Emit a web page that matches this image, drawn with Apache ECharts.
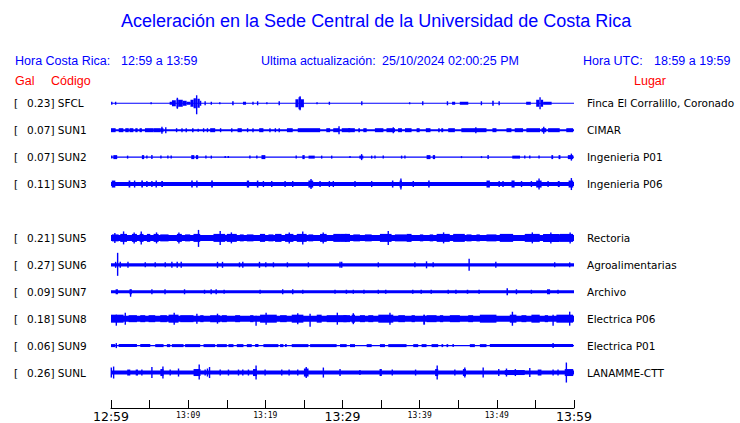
<!DOCTYPE html>
<html><head><meta charset="utf-8">
<script src="https://cdn.jsdelivr.net/npm/echarts@6/dist/echarts.min.js"></script>
<style>html,body{margin:0;padding:0;background:#fff}#c{width:740px;height:423px}</style>
</head><body><div id="c"></div>
<script>
// ---- data ----
const codes = ['SFCL','SUN1','SUN2','SUN3','','SUN5','SUN6','SUN7','SUN8','SUN9','SUNL'];
const gal = [0.23,0.07,0.07,0.11,null,0.21,0.27,0.09,0.18,0.06,0.26];
const places = ['Finca El Corralillo, Coronado','CIMAR','Ingenieria P01','Ingenieria P06','','Rectoria','Agroalimentarias','Archivo','Electrica P06','Electrica P01','LANAMME-CTT'];
const baseAmp = [0.5,1,0.6,2,0,3,1.7,1.5,3,0.7,2];
const timeLabels = ['12:59','13:09','13:19','13:29','13:39','13:49','13:59'];
const majorLabels = ['12:59','13:29','13:59'];
// events: [tStart(min), tEnd(min), up, down]
const evSFCL = [[0.1,0.1,1.5],[0.6,0.6,1.5],[5.2,5.2,1],[7.6,7.9,1.5],[7.9,8.4,3],[8.5,8.7,4.5],[8.6,8.6,5.5],[8.7,9.3,3.5],[9.3,9.8,2.5],[9.8,10.3,1.5],[10.3,10.7,3.5],[10.7,11.0,5],[11.1,11.2,8,11],[11.2,11.5,4.5],[11.5,11.7,2.5],[12.2,12.2,2],[13.0,13.0,1.5],[14.1,14.1,1],[15.7,15.9,2],[17.1,17.5,1.5],[18.4,18.4,1.5],[19.0,19.1,2],[20.2,20.2,1],[21.8,21.8,2],[23.9,24.3,4],[24.3,24.6,6],[24.5,24.5,7],[24.6,25.0,4],[26.7,26.7,1],[28.3,28.3,1.5],[32.5,32.5,2],[38.7,38.7,1],[40.4,40.4,2],[43.6,43.6,2],[44.2,44.6,1.5],[45.2,46.3,1.5],[48.0,48.0,2],[49.4,49.6,2.5],[50.3,50.3,2],[53.8,54.4,1.5],[55.1,55.5,3.5],[55.6,55.6,6],[55.7,56.0,3.5],[56.0,57.1,1.5]];
const evSUN1 = [[0,0.6,2],[1.0,1.6,2],[1.85,2.3,2],[2.4,2.9,2],[3.15,3.45,2],[3.7,4.0,2],[4.4,5.5,2],[5.5,6.4,2],[6.4,6.8,2],[6.6,6.6,3.5],[7.1,7.2,3],[8.5,8.5,2],[9.2,9.2,2],[9.75,9.75,2],[10.5,10.7,2],[11.3,11.3,1.5],[12.0,12.0,2],[12.5,12.5,2],[12.85,13.5,2],[14.2,14.2,2],[15.65,15.65,2],[16.4,16.95,2],[17.7,17.7,2],[18.4,18.4,2],[19.2,19.75,2],[20.6,20.6,2],[21.3,21.3,2],[21.8,21.8,2],[22.8,23.55,2],[24.2,27.1,2],[27.9,28.4,2],[28.8,29.6,2],[29.55,29.55,4],[29.9,31.0,2],[30.75,31.6,2],[32.05,32.26,2],[32.7,33.13,2],[34.2,35.3,2],[35.7,36.8,2],[36.58,36.58,3],[37.2,37.7,2],[38.1,38.95,2],[39.6,40.0,2],[40.8,41.4,2],[42.4,42.6,2],[42.8,43.05,2],[43.7,44.56,2],[45.4,48.66,2],[47.28,47.28,3],[49.43,49.95,2],[51.25,51.89,2],[52.32,53.4,2],[53.83,55.6,2],[55.8,56.4,2],[56.08,56.08,3.5],[56.64,58.15,2],[59.0,59.88,2]];
const evSUN2 = [[0.1,0.1,1.5],[0.3,0.8,2],[2.15,2.15,1.5],[4.0,4.3,2],[4.65,4.65,1.5],[5.3,5.3,2],[6.47,6.47,1.5],[7.37,7.37,1.5],[7.8,7.8,1.5],[10.4,10.8,2],[11.0,11.3,2],[12.3,12.3,1.5],[13.0,13.0,1.5],[14.8,14.8,1],[15.2,15.2,1],[18.0,18.0,1.5],[18.9,18.9,1.5],[19.5,20.0,2],[24.0,24.0,1.5],[24.8,25.1,2],[25.6,26.4,1.5],[27.3,27.3,1.5],[28.6,28.6,1.5],[30.97,30.97,1],[32.18,32.7,1.5],[32.48,32.48,3],[33.78,33.78,1.5],[34.21,34.21,1.5],[35.28,35.28,1.5],[37.66,37.66,1.5],[38.09,38.09,1.5],[40.9,41.4,2],[41.7,42.0,2],[45.42,45.42,1],[48.01,48.01,1],[48.87,48.87,2],[52.0,53.0,1.5],[53.62,53.62,1.5],[54.27,54.27,1.5],[55.47,55.47,1.5],[57.07,57.3,2],[58.0,58.24,2],[59.2,59.9,2],[59.66,59.66,3.5]];
const evSUN3 = [[0.1,0.56,3.5],[2.28,2.5,3.5],[3.06,3.19,3.5],[3.92,4.14,3.5],[4.65,4.65,3],[5.3,5.3,3],[5.86,6.04,3.5],[6.51,6.73,3],[10.39,10.6,3.5],[11.13,11.13,3.5],[12.98,13.2,3.5],[17.6,17.9,3.5],[18.9,19.1,3.5],[19.75,19.75,3],[20.83,20.83,3],[22.56,22.56,3],[23.55,23.55,3],[25.58,26.2,3.5],[25.92,25.92,5],[27.09,27.09,3],[28.3,28.3,3],[28.81,28.81,3],[31.62,31.62,3],[33.78,33.78,3],[36.4,36.6,3.5],[37.4,37.7,3.5],[37.57,37.57,5.5],[39.17,39.17,3],[41.1,41.3,3.5],[48.66,49.1,3.5],[50.3,50.3,3],[50.8,50.8,3],[51.9,52.3,3.5],[53.2,53.2,3],[54.48,54.48,3],[55.1,55.8,3.5],[55.47,55.47,5.5],[56.64,56.64,3],[57.9,58.15,3],[59.3,59.9,3.5],[59.66,59.66,6]];
const evSUN5 = [[0.12,0.99,3.5],[0.5,0.5,5],[1.2,2.07,4],[1.63,1.63,6.5],[2.71,3.36,4],[3.0,3.0,5.5],[3.71,4.22,4],[3.92,3.92,6.5],[4.65,5.09,4],[5.52,6.17,4],[5.9,5.9,5.5],[6.38,7.46,3.5],[8.54,9.18,4],[8.8,8.8,5.5],[9.6,10.26,3.5],[10.69,11.56,4],[11.34,11.34,8,9],[13.28,14.8,4],[14.15,14.15,7],[15.0,16.3,4],[15.6,15.6,5.5],[16.7,17.2,3.5],[17.6,18.46,3.5],[19.3,19.97,4],[20.4,21.05,3.5],[21.26,22.1,4],[22.56,23.64,4],[23.1,23.1,5.5],[24.07,25.36,4],[24.85,24.85,6.5],[25.58,26.2,3.5],[27.09,27.95,4],[27.5,27.5,5.5],[28.81,29.68,4],[29.68,30.54,4],[30.32,30.97,4],[31.4,32.26,3.5],[32.9,33.78,3.5],[34.85,36.36,4],[35.93,35.93,7],[36.79,38.3,3.5],[38.3,38.95,4],[40.03,40.46,3.5],[41.3,41.75,3.5],[42.2,43.9,4],[43.1,43.1,5.5],[44.34,45.85,4],[46.07,46.72,3.5],[47.36,47.8,3.5],[48.66,49.95,3.5],[50.38,52.11,4],[53.62,55.56,4],[54.6,54.6,5.5],[55.99,58.15,4],[57.0,57.0,5.5],[58.15,59.88,4],[59.5,59.5,5.5]];
const evSUN6 = [[0.6,0.6,3],[0.86,0.86,12,11],[1.2,1.2,3],[2.2,2.2,3],[4.44,4.44,2.5],[5.73,5.73,2.5],[7.03,7.03,2.5],[7.89,7.89,3],[8.58,8.58,3],[9.1,9.1,3],[13.8,13.8,3],[14.45,14.45,3],[16.65,16.65,2.5],[17.08,17.08,3],[19.24,19.24,3],[20.06,20.06,2.5],[21.05,21.05,2.5],[22.86,22.86,2.5],[25.58,25.58,2.5],[29.68,29.68,3],[29.9,29.9,3],[34.64,34.64,2.5],[39.38,39.38,2.5],[40.89,40.89,3.5],[41.75,41.75,2.5],[46.41,46.41,6],[49.87,49.87,3],[57.5,57.5,2.5],[59.44,59.44,2.5]];
const evSUN7 = [[0.6,0.9,2.5],[2.4,2.7,2.5],[2.54,2.54,2,5],[5.3,5.3,2.5],[7.0,7.1,2.5],[9.53,9.53,2.5],[12.12,12.12,2],[12.98,12.98,2.5],[13.63,13.63,2.5],[14.66,14.66,2],[19.32,19.32,2],[22.25,22.25,2.5],[23.55,23.55,2.5],[24.85,24.85,2],[29.03,29.03,2],[30.41,30.6,2],[31.4,31.4,2],[32.78,32.9,2],[34.64,34.64,2],[35.5,35.7,2],[39.0,39.2,2],[40.1,40.3,2],[41.4,41.6,2],[43.7,43.7,2],[44.6,44.8,2],[46.1,46.3,2],[47.6,47.8,2],[51.25,51.45,3.5],[52.54,52.54,2.5],[54.48,54.48,2],[56.5,56.9,2.5],[57.93,57.93,2]];
const evSUN8 = [[0,1.63,4],[0.69,0.69,4,7],[1.85,1.85,6],[2.28,3.36,3.5],[3.79,4.44,3.5],[4.87,5.73,3.5],[6.38,7.24,3.5],[7.46,8.75,4],[8.19,8.19,6],[8.97,10.69,3.5],[11.13,11.13,5],[11.56,11.99,3.5],[12.85,14.15,3.5],[13.8,13.8,5],[14.36,15.01,3.5],[16.09,16.73,3.5],[18.03,18.46,3.5],[18.8,18.8,3,7],[19.32,21.48,4],[20.1,20.1,6],[21.91,22.77,3.5],[23.42,24.93,4],[24.2,24.2,5.5],[25.8,25.8,5,8],[26.66,27.3,4],[27.95,29.68,3.5],[29.33,29.33,6],[29.68,30.54,3.5],[30.11,30.97,3.5],[31.19,31.62,4],[31.4,31.4,5.5],[32.26,32.91,3.5],[33.34,33.99,3.5],[34.64,36.58,4],[36.15,36.15,6],[37.23,38.09,3.5],[38.95,39.38,3.5],[40.46,40.7,4,6],[40.89,42.19,3.5],[42.62,43.05,3.5],[43.91,45.21,3.5],[46.29,46.93,3.5],[47.8,49.95,4],[51.68,52.54,4],[52.02,52.02,7],[53.19,53.83,3.5],[54.48,55.56,4],[56.21,56.64,3.5],[57.29,57.29,4,7],[57.72,59.88,4],[59.44,59.44,7]];
const evSUN9 = [[0,0.56,1.5],[0.69,0.69,2.5],[0.99,3.36,1.5],[3.79,5.09,1.5],[5.73,6.81,1.5],[7.24,7.67,1.5],[7.89,9.4,1.5],[9.6,11.56,1.5],[11.99,13.5,1.5],[13.71,15.01,1.5],[15.22,15.87,1.5],[16.3,17.16,1.5],[17.6,18.24,1.5],[18.68,19.11,1.5],[19.75,21.69,1.5],[21.91,22.34,1.5],[22.56,22.77,1.5],[23.42,25.58,1.5],[25.8,29.24,1.5],[29.68,30.54,1.5],[30.97,31.62,1.5],[33.13,33.78,1.5],[34.85,35.5,1.5],[35.93,38.3,1.5],[39.17,39.81,1.5],[40.25,40.89,1.5],[41.54,42.4,1.5],[42.83,43.05,1.5],[43.48,43.7,1.5],[44.34,44.34,1.5],[46.5,47.15,1.5],[47.8,48.66,1.5],[49.09,59.88,1.5],[57.29,57.29,2.5]];
const evSUNL = [[0.04,0.04,5],[0.34,0.34,6],[2.1,2.5,3],[3.2,3.5,3],[4.0,4.0,3],[5.3,5.3,5.5],[6.4,6.8,3.5],[6.73,6.73,6],[7.67,7.67,3],[8.75,8.75,4],[10.7,11.6,3.5],[11.43,11.43,8,7],[12.2,12.2,3],[12.5,12.5,4],[12.77,12.77,5.5],[14.15,14.15,3],[15.22,15.22,3],[16.52,16.52,3],[17.08,17.08,3],[17.81,17.81,3],[18.4,18.9,3.5],[18.8,18.8,7],[19.97,19.97,3],[22.13,22.13,3],[23.08,23.08,3],[24.2,24.2,3],[25.0,25.6,4],[25.3,25.3,5.5],[27.52,27.52,5],[29.68,29.68,3.5],[32.26,32.26,2.5],[34.8,35.1,3.5],[36.45,36.45,3],[39.47,39.47,3],[42.0,42.4,3.5],[42.27,42.27,7],[44.56,44.56,3],[45.6,46.0,3.5],[45.85,45.85,5],[48.23,48.23,5],[50.25,50.25,3.5],[51.03,53.62,2.5],[51.25,51.25,4],[52.4,52.4,3.5],[54.27,54.27,4.5],[55.3,55.78,3],[57.29,57.29,3],[57.93,57.93,3],[58.8,59.9,3.5],[59.01,59.01,10]];
const events = [evSFCL, evSUN1, evSUN2, evSUN3, [], evSUN5, evSUN6, evSUN7, evSUN8, evSUN9, evSUNL];

// ---- build ----
const T0 = 0, T1 = 60;
const BLUE = '#0000ff';
const bandData = baseAmp.map((a, i) => [T0, T1, i, a]).filter(d => d[3] > 0);
const spikeData = [];
events.forEach((list, i) => list.forEach(e => spikeData.push([e[0], e[1], i, e[2], e[3] != null ? e[3] : e[2]])));

function renderBand(params, api) {
  const p0 = api.coord([api.value(0), api.value(2)]);
  const p1 = api.coord([api.value(1), api.value(2)]);
  const a = api.value(3);
  return { type: 'rect', shape: { x: p0[0], y: p0[1] - a, width: p1[0] - p0[0], height: 2 * a }, style: { fill: BLUE } };
}
function renderSpike(params, api) {
  const p0 = api.coord([api.value(0), api.value(2)]);
  const p1 = api.coord([api.value(1), api.value(2)]);
  const up = api.value(3), dn = api.value(4);
  let w = p1[0] - p0[0], x = p0[0];
  if (w < 1.4) { x = p0[0] - 0.7; w = 1.4; }
  return { type: 'rect', shape: { x: x, y: p0[1] - up, width: w, height: up + dn }, style: { fill: BLUE } };
}

const hdr = { color: BLUE, fontFamily: 'Liberation Sans', fontSize: 12.5, fontWeight: 'normal' };
const red = { color: '#ff0000', fontFamily: 'Liberation Sans', fontSize: 12.5, fontWeight: 'normal' };
const labFont = 'DejaVu Sans';

const chart = echarts.init(document.getElementById('c'), null, { renderer: 'svg' });
chart.setOption({
  animation: false,
  backgroundColor: '#fff',
  title: [
    { text: 'Aceleración en la Sede Central de la Universidad de Costa Rica', left: 121, top: 12, padding: 0, textStyle: { color: BLUE, fontFamily: 'Liberation Sans', fontSize: 18, fontWeight: 'normal' } },
    { text: 'Hora Costa Rica:', left: 15, top: 54, padding: 0, textStyle: hdr },
    { text: '12:59 a 13:59', left: 121, top: 54, padding: 0, textStyle: hdr },
    { text: 'Ultima actualización:', left: 261, top: 54, padding: 0, textStyle: hdr },
    { text: '25/10/2024 02:00:25 PM', left: 382, top: 54, padding: 0, textStyle: hdr },
    { text: 'Hora UTC:', left: 583, top: 54, padding: 0, textStyle: hdr },
    { text: '18:59 a 19:59', left: 654, top: 54, padding: 0, textStyle: hdr },
    { text: 'Gal', left: 15, top: 74, padding: 0, textStyle: red },
    { text: 'Código', left: 51, top: 74, padding: 0, textStyle: red },
    { text: 'Lugar', left: 634, top: 74, padding: 0, textStyle: red }
  ],
  grid: { left: 111, right: 166, top: 89.8, height: 297 },
  xAxis: {
    type: 'value', min: T0, max: T1, interval: 5, offset: 22,
    axisLine: { show: true, lineStyle: { color: '#000', width: 1 } },
    axisTick: { show: true, inside: true, length: 8, lineStyle: { color: '#000', width: 1 } },
    splitLine: { show: false },
    axisLabel: {
      show: true, margin: 2, color: '#000', hideOverlap: false,
      formatter: v => {
        if (v % 10 !== 0) return '';
        const lab = timeLabels[v / 10];
        return majorLabels.indexOf(lab) >= 0 ? '{big|' + lab + '}' : '{small|' + lab + '}';
      },
      rich: {
        big: { fontFamily: 'DejaVu Sans', fontSize: 12.5, color: '#000' },
        small: { fontFamily: 'DejaVu Sans Mono', fontSize: 8, color: '#000', padding: [1, 0, 0, 0] }
      }
    }
  },
  yAxis: [
    {
      type: 'category', data: codes, inverse: true,
      axisLine: { show: false }, axisTick: { show: false }, splitLine: { show: false },
      axisLabel: {
        align: 'left', margin: 97, color: '#000', fontFamily: labFont, fontSize: 10.5,
        formatter: (val, idx) => gal[idx] == null ? '' : '{b|[}{n|' + gal[idx].toFixed(2) + '] ' + val + '}',
        rich: { b: { width: 13, fontFamily: labFont, fontSize: 10.5, color: '#000' }, n: { fontFamily: labFont, fontSize: 10.5, color: '#000' } }
      }
    },
    {
      type: 'category', data: places, inverse: true, position: 'right',
      axisLine: { show: false }, axisTick: { show: false }, splitLine: { show: false },
      axisLabel: { align: 'left', margin: 13, color: '#000', fontFamily: labFont, fontSize: 10.5 }
    }
  ],
  series: [
    { type: 'custom', renderItem: renderBand, data: bandData, encode: { x: [0, 1], y: 2 }, xAxisIndex: 0, yAxisIndex: 0 },
    { type: 'custom', renderItem: renderSpike, data: spikeData, encode: { x: [0, 1], y: 2 }, xAxisIndex: 0, yAxisIndex: 0 }
  ]
});
</script></body></html>
